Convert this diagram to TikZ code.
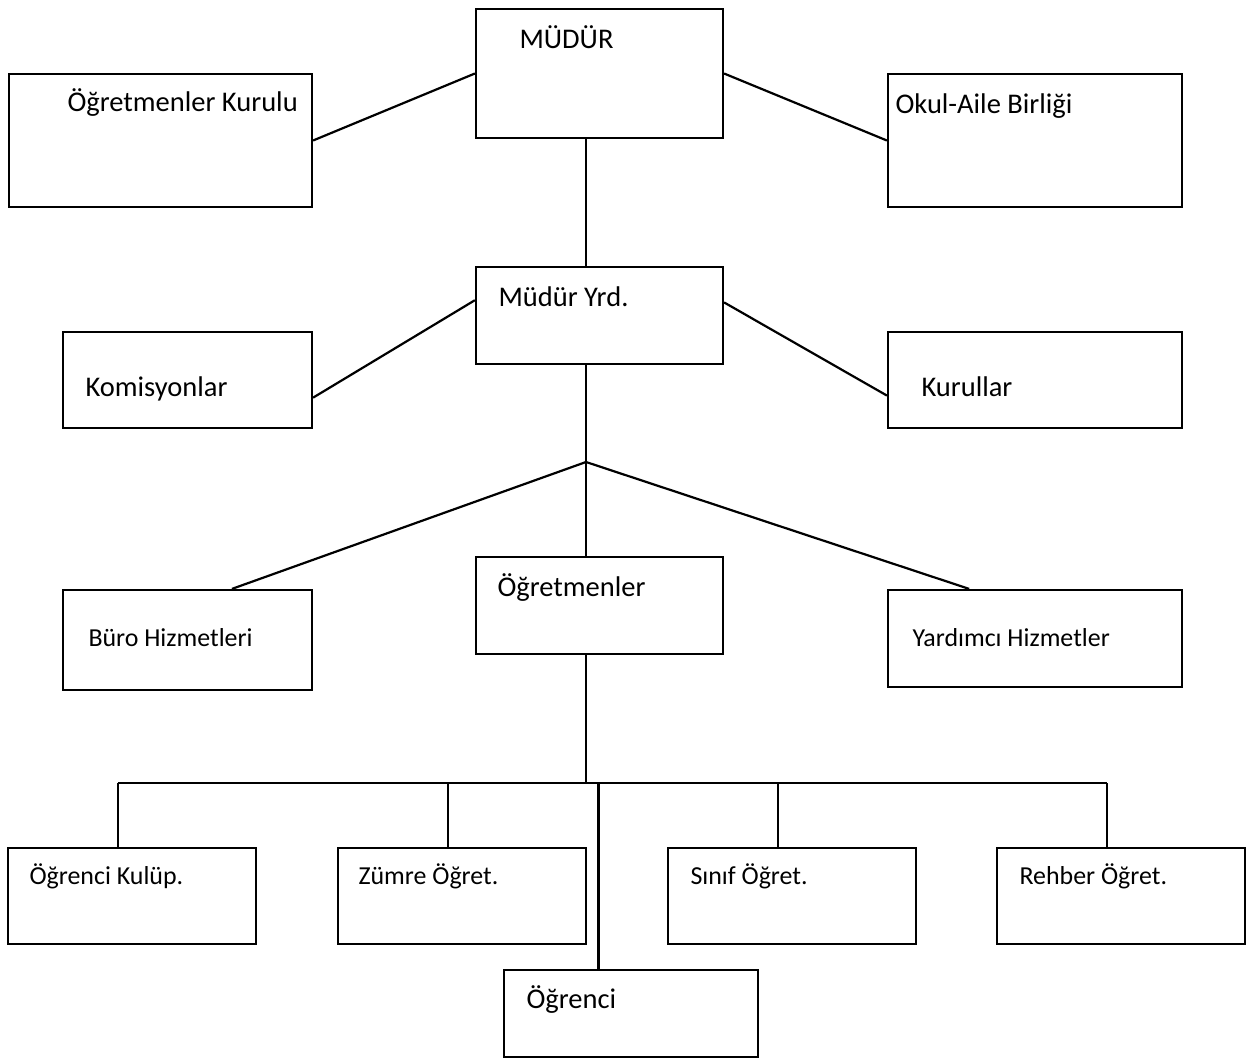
\documentclass[tikz,border=0pt]{standalone}
\usepackage{fontspec}
\setmainfont{Carlito}
\usetikzlibrary{fit}
\tikzset{
  kutu/.style={draw, line width=.85pt, inner sep=0pt},
  yazi/.style={anchor=base west, inner sep=0pt, font=\fontsize{11pt}{13pt}\selectfont},
  kucukyazi/.style={yazi, font=\fontsize{10pt}{12pt}\selectfont},
  hat/.style={line width=.85pt}
}
\begin{document}
\begin{tikzpicture}[x=.386pt,y=-.386pt]
\useasboundingbox (0,0) rectangle (1247,1059);
% Top level
\node[kutu, fit={(476,9) (723,138)}] (mudur) {};
\node[yazi] (mudur-yazi) at (519,48) {MÜDÜR};
\node[kutu, fit={(9,74) (312,207)}] (ogretmenler-kurulu) {};
\node[yazi] (ogretmenler-kurulu-yazi) at (67,111) {Öğretmenler Kurulu};
\node[kutu, fit={(888,74) (1182,207)}] (okul-aile) {};
\node[yazi] (okul-aile-yazi) at (895,113) {Okul-Aile Birliği};
\draw[hat] (mudur.west) -- (ogretmenler-kurulu.east);
\draw[hat] (mudur.east) -- (okul-aile.west);
% Second level
\coordinate (kavsak) at (586,462);
\node[kutu, fit={(476,267) (723,364)}] (mudur-yrd) {};
\node[yazi] (mudur-yrd-yazi) at (498,306) {Müdür Yrd.};
\node[kutu, fit={(63,332) (312,428)}] (komisyonlar) {};
\node[yazi] (komisyonlar-yazi) at (85,396) {Komisyonlar};
\node[kutu, fit={(888,332) (1182,428)}] (kurullar) {};
\node[yazi] (kurullar-yazi) at (921,396) {Kurullar};
\draw[hat] (mudur.south -| kavsak) -- (mudur-yrd.north -| kavsak);
\draw[hat] (mudur-yrd.173.3) -- (komisyonlar.352.7);
\draw[hat] (mudur-yrd.6.7) -- (kurullar.186.2);
\draw[hat] (mudur-yrd.south -| kavsak) -- (kavsak);
% Third level
\node[kutu, fit={(63,590) (312,690)}] (buro) {};
\node[kucukyazi] (buro-yazi) at (88,646) {Büro Hizmetleri};
\node[kutu, fit={(476,557) (723,654)}] (ogretmenler) {};
\node[yazi] (ogretmenler-yazi) at (497,596) {Öğretmenler};
\node[kutu, fit={(888,590) (1182,687)}] (yardimci) {};
\node[kucukyazi] (yardimci-yazi) at (912,646) {Yardımcı Hizmetler};
\draw[hat] (kavsak) -- (buro.49.6);
\draw[hat] (kavsak) -- (ogretmenler.north -| kavsak);
\draw[hat] (kavsak) -- (yardimci.143.3);
% Bottom row
\coordinate (bara) at (586,783);
\node[kutu, fit={(8,848) (256,944)}] (ogrenci-kulup) {};
\node[kucukyazi] (ogrenci-kulup-yazi) at (29,884) {Öğrenci Kulüp.};
\node[kutu, fit={(338,848) (586,944)}] (zumre) {};
\node[kucukyazi] (zumre-yazi) at (358,884) {Zümre Öğret.};
\node[kutu, fit={(668,848) (916,944)}] (sinif) {};
\node[kucukyazi] (sinif-yazi) at (690,884) {Sınıf Öğret.};
\node[kutu, fit={(997,848) (1245,944)}] (rehber) {};
\node[kucukyazi] (rehber-yazi) at (1019,884) {Rehber Öğret.};
\node[kutu, fit={(504,970) (758,1057)}] (ogrenci) {};
\node[yazi] (ogrenci-yazi) at (526,1008) {Öğrenci};
\draw[hat] (ogretmenler.south -| bara) -- (bara);
\draw[hat] (ogrenci-kulup.106.3 |- bara) -- (rehber.106.3 |- bara);
\foreach \k in {ogrenci-kulup, zumre, sinif, rehber}
  \draw[hat] (\k.106.3 |- bara) -- (\k.106.3);
\draw[hat] (ogrenci.126.3 |- bara) -- (ogrenci.126.3);
\end{tikzpicture}
\end{document}
